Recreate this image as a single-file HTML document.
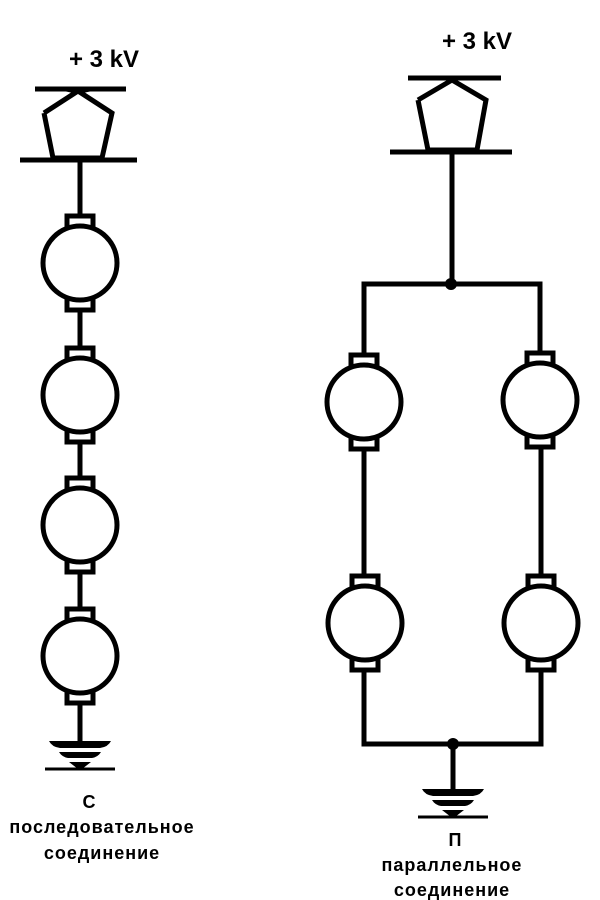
<!DOCTYPE html>
<html><head><meta charset="utf-8"><style>
html,body{margin:0;padding:0;background:#fff;}
svg{display:block;}
text{font-family:"Liberation Sans",sans-serif;font-weight:bold;fill:#000;text-anchor:middle;}
</style></head><body>
<svg width="600" height="900" viewBox="0 0 600 900" xmlns="http://www.w3.org/2000/svg">
<defs>
<g id="motor">
  <rect x="-13" y="-47" width="26" height="15" fill="#fff" stroke="#000" stroke-width="5"/>
  <rect x="-13" y="32" width="26" height="15" fill="#fff" stroke="#000" stroke-width="5"/>
  <circle cx="0" cy="0" r="37" fill="#fff" stroke="#000" stroke-width="5"/>
</g>
<g id="ground">
  <path d="M-31,0 L31,0 Q28,6 20,7 L-20,7 Q-28,6 -31,0Z" fill="#000"/>
  <path d="M-21,11 L21,11 Q18,16 12,17 L-12,17 Q-18,16 -21,11Z" fill="#000"/>
  <path d="M-11,21 L11,21 L2,28 L-2,28Z" fill="#000"/>
  <line x1="-35" y1="28" x2="35" y2="28" stroke="#000" stroke-width="3"/>
</g>
</defs>

<!-- LEFT -->
<text x="104" y="67" font-size="24">+ 3 kV</text>
<line x1="35" y1="89" x2="126" y2="89" stroke="#000" stroke-width="5"/>
<polyline points="64,89 78,92 92,89" fill="none" stroke="#000" stroke-width="4"/>
<polyline points="44,113 78,91 112,113 102,158 53,158 44,113" fill="none" stroke="#000" stroke-width="5" stroke-linejoin="miter"/>
<line x1="20" y1="160" x2="137" y2="160" stroke="#000" stroke-width="5"/>
<line x1="80" y1="160" x2="80" y2="742" stroke="#000" stroke-width="5"/>
<use href="#motor" x="80" y="263"/>
<use href="#motor" x="80" y="395"/>
<use href="#motor" x="80" y="525"/>
<use href="#motor" x="80" y="656"/>
<use href="#ground" x="80" y="741"/>
<text x="89" y="808" font-size="18">С</text>
<text x="102" y="833" font-size="18" letter-spacing="1">последовательное</text>
<text x="102" y="859" font-size="18" letter-spacing="1">соединение</text>

<!-- RIGHT -->
<text x="477" y="49" font-size="24">+ 3 kV</text>
<line x1="408" y1="78" x2="501" y2="78" stroke="#000" stroke-width="5"/>
<polyline points="418,100 452,80 486,100 477,150 428,150 418,100" fill="none" stroke="#000" stroke-width="5"/>
<line x1="390" y1="152" x2="512" y2="152" stroke="#000" stroke-width="5"/>
<line x1="452" y1="152" x2="452" y2="284" stroke="#000" stroke-width="5"/>
<polyline points="364,400 364,284 540,284 540,400" fill="none" stroke="#000" stroke-width="5"/>
<polyline points="364,400 364,744 541,744 541,400" fill="none" stroke="#000" stroke-width="5"/>
<circle cx="451" cy="284" r="6" fill="#000"/>
<circle cx="453" cy="744" r="6" fill="#000"/>
<line x1="453" y1="744" x2="453" y2="790" stroke="#000" stroke-width="5"/>
<use href="#motor" x="364" y="402"/>
<use href="#motor" x="540" y="400"/>
<use href="#motor" x="365" y="623"/>
<use href="#motor" x="541" y="623"/>
<use href="#ground" x="453" y="789"/>
<text x="455" y="846" font-size="18">П</text>
<text x="452" y="871" font-size="18" letter-spacing="1">параллельное</text>
<text x="452" y="896" font-size="18" letter-spacing="1">соединение</text>
</svg>
</body></html>
